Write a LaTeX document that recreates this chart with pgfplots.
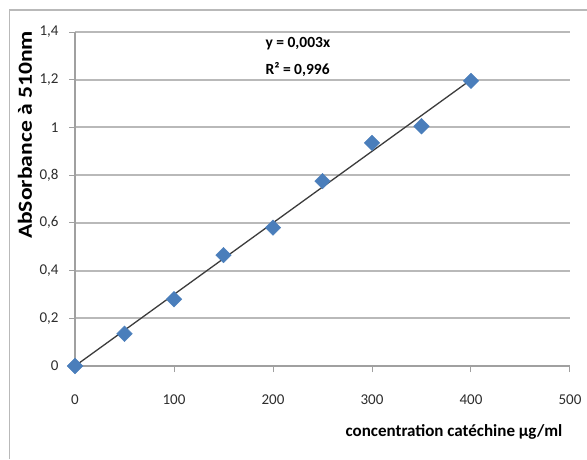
\documentclass[border=0pt]{standalone}
\usepackage{fontspec}
\setmainfont{Carlito}
\usepackage{pgfplots}
\pgfplotsset{compat=1.18}

\definecolor{xlblue}{RGB}{74,126,187}
\definecolor{gridgray}{RGB}{185,185,185}
\definecolor{axgray}{RGB}{160,160,160}
\definecolor{ticktxt}{RGB}{45,45,45}
\definecolor{trend}{RGB}{60,60,60}

\begin{document}
\begin{tikzpicture}
\path[use as bounding box, fill=white] (0pt,0pt) rectangle (587pt,459pt);
% chart frame (cropped on the right and bottom)
\draw[gridgray, line width=1.5pt] (9.5pt,0pt) -- (9.5pt,449pt) -- (587pt,449pt);

\begin{axis}[
    at={(75pt,93pt)}, anchor=south west,
    scale only axis,
    width=495pt, height=334pt,
    xmin=0, xmax=500, ymin=0, ymax=1.4,
    xtick={0,100,...,500},
    ytick={0,0.2,...,1.4},
    axis x line=bottom, axis y line=left,
    axis line style={-, axgray, line width=1.2pt},
    tick align=outside,
    major tick length=6pt,
    tick style={axgray, line width=1pt},
    ymajorgrids,
    grid style={gridgray, line width=1.9pt},
    /pgf/number format/.cd, assume math mode=true, use comma, fixed, precision=1,
    /pgfplots/.cd,
    yticklabel shift=7pt,
    xticklabel shift=19pt,
    tick label style={font=\fontsize{15}{17}\selectfont, text=ticktxt},
    clip=false,
]
% trendline y = 0,003x
\addplot[trend, line width=1.3pt, no marks] coordinates {(0,0) (400,1.2)};
% measured absorbance
\addplot[only marks, mark=square*, mark size=5.5pt,
    mark options={rotate=45, fill=xlblue, draw=xlblue}] coordinates {
    (0,0)
    (50,0.135)
    (100,0.28)
    (150,0.465)
    (200,0.58)
    (250,0.775)
    (300,0.935)
    (350,1.005)
    (400,1.195)
};
\end{axis}

\node[anchor=west, font=\bfseries\fontsize{15.5}{17}\selectfont] at (262pt,415pt) {y = 0,003x};
\node[anchor=west, font=\bfseries\fontsize{15.5}{17}\selectfont] at (262pt,389pt) {R² = 0,996};
\node[rotate=90, inner sep=0pt, font=\bfseries\fontsize{20}{22}\selectfont] at (25pt,324pt)
    {\scalebox{1.18}[1]{AbSorbance à 510nm}};
\node[font=\bfseries\fontsize{17}{20}\selectfont] at (454pt,27pt) {concentration catéchine µg/ml};
\end{tikzpicture}
\end{document}
